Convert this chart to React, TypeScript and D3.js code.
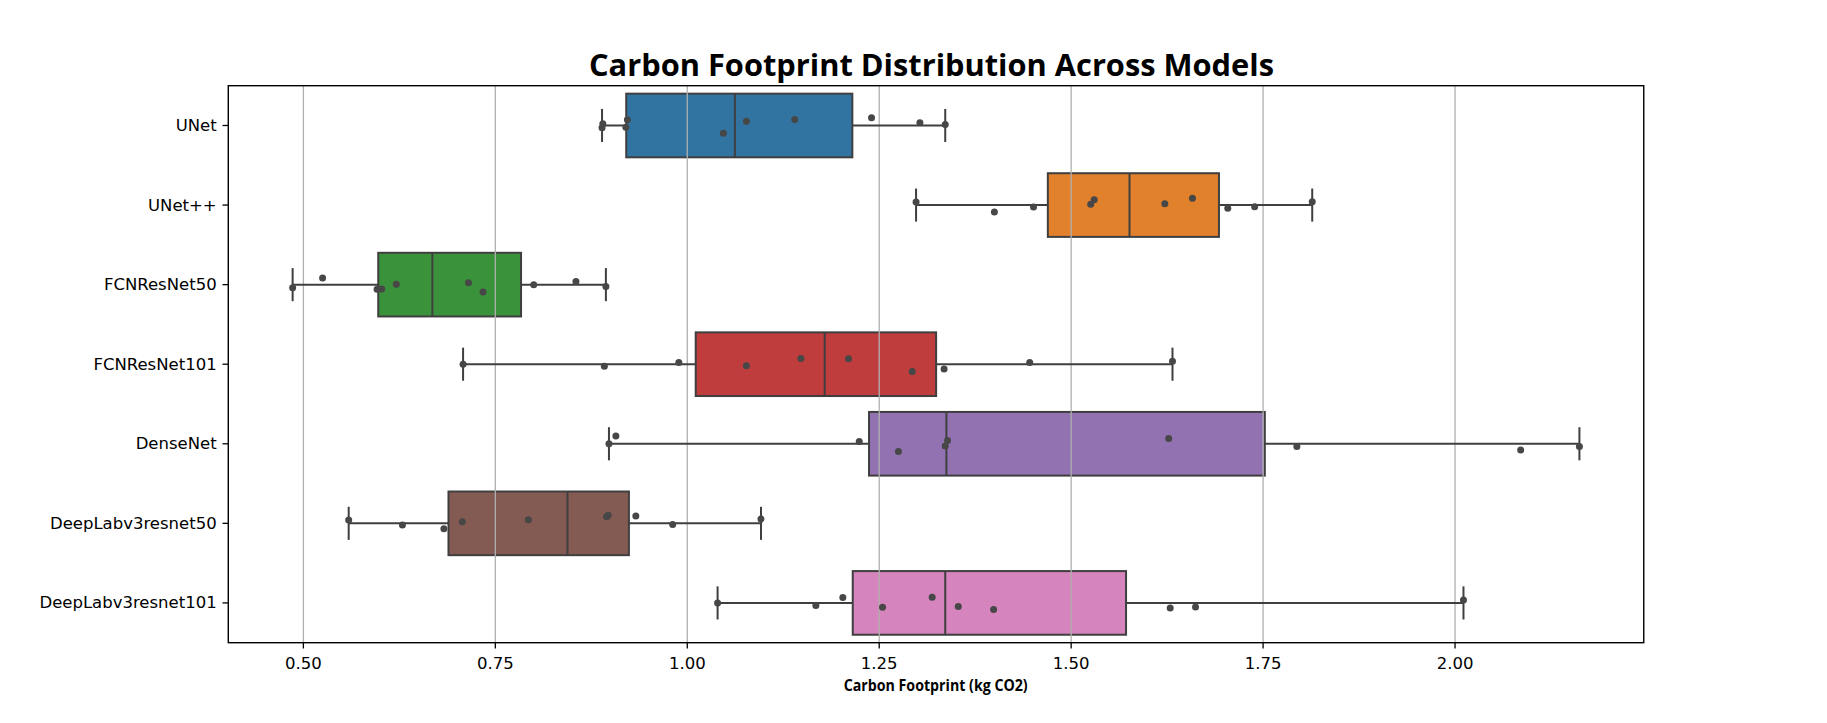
import React from "react";
import * as d3 from "d3";

const models = [
  "UNet",
  "UNet++",
  "FCNResNet50",
  "FCNResNet101",
  "DenseNet",
  "DeepLabv3resnet50",
  "DeepLabv3resnet101",
];

// carbon footprint samples (kg CO2) per model
const unetValues = [0.889, 0.89, 0.92, 0.922, 1.047, 1.077, 1.14, 1.24, 1.303, 1.336];
const unetPPValues = [1.298, 1.4, 1.451, 1.5255, 1.53, 1.622, 1.658, 1.704, 1.739, 1.814];
const fcn50Values = [0.486, 0.525, 0.596, 0.602, 0.621, 0.715, 0.734, 0.8, 0.855, 0.894];
const fcn101Values = [0.708, 0.892, 0.989, 1.077, 1.148, 1.21, 1.293, 1.3345, 1.446, 1.632];
const denseValues = [0.898, 0.907, 1.224, 1.275, 1.336, 1.339, 1.627, 1.794, 2.0855, 2.162];
const deeplab50Values = [0.559, 0.629, 0.683, 0.707, 0.793, 0.895, 0.897, 0.933, 0.981, 1.096];
const deeplab101Values = [1.0395, 1.1675, 1.2026, 1.2543, 1.319, 1.353, 1.399, 1.629, 1.662, 2.011];

// strip-plot jitter (category units)
const unetJitter = [0.029, -0.021, 0.021, -0.072, 0.097, -0.054, -0.075, -0.097, -0.034, -0.013];
const unetPPJitter = [-0.038, 0.088, 0.025, -0.009, -0.067, -0.016, -0.084, 0.041, 0.021, -0.041];
const fcn50Jitter = [0.038, -0.084, 0.059, 0.054, -0.004, -0.025, 0.092, 0.0, -0.038, 0.025];
const fcn101Jitter = [0.0, 0.025, -0.021, 0.021, -0.072, -0.067, 0.092, 0.059, -0.021, -0.038];
const denseJitter = [0.0, -0.097, -0.029, 0.097, 0.029, -0.041, -0.067, 0.034, 0.079, 0.034];
const deeplab50Jitter = [-0.041, 0.021, 0.067, -0.021, -0.046, -0.084, -0.101, -0.092, 0.016, -0.054];
const deeplab101Jitter = [0.0, 0.034, -0.067, 0.054, -0.072, 0.046, 0.084, 0.063, 0.05, -0.038];

const seriesValues = [unetValues, unetPPValues, fcn50Values, fcn101Values, denseValues, deeplab50Values, deeplab101Values];
const seriesJitter = [unetJitter, unetPPJitter, fcn50Jitter, fcn101Jitter, denseJitter, deeplab50Jitter, deeplab101Jitter];

const palette = ["#3274a1", "#e1812c", "#3a923a", "#c03d3e", "#9372b2", "#845b53", "#d684bd"];

const xTicks = [0.5, 0.75, 1.0, 1.25, 1.5, 1.75, 2.0];
const titleText = "Carbon Footprint Distribution Across Models";
const xLabelText = "Carbon Footprint (kg CO2)";

const W = 1827;
const H = 723;
const plot = { left: 228.3, right: 1643.75, top: 85.7, bottom: 642.7 };

const LINE = "#3f3f3f";
const POINT = "#474747";
const TICK_FONT = "'DejaVu Sans', sans-serif";
const TITLE_FONT = "'Open Sans', 'Noto Sans', sans-serif";

function stats(vals: number[]) {
  const s = [...vals].sort((a, b) => a - b);
  const q1 = d3.quantileSorted(s, 0.25) as number;
  const med = d3.quantileSorted(s, 0.5) as number;
  const q3 = d3.quantileSorted(s, 0.75) as number;
  const iqr = q3 - q1;
  const lo = d3.min(s.filter((v) => v >= q1 - 1.5 * iqr)) as number;
  const hi = d3.max(s.filter((v) => v <= q3 + 1.5 * iqr)) as number;
  return { q1, med, q3, lo, hi };
}

export default function App() {
  const all = seriesValues.flat();
  const mn = d3.min(all) as number;
  const mx = d3.max(all) as number;
  const pad = (mx - mn) * 0.05;
  const x = d3.scaleLinear().domain([mn - pad, mx + pad]).range([plot.left, plot.right]);
  const y = d3.scaleBand<string>().domain(models).range([plot.top, plot.bottom]).paddingInner(0).paddingOuter(0);
  const bw = y.bandwidth();
  const boxH = bw * 0.8;
  const capHalf = boxH * 0.26;
  const fmt = d3.format(".2f");

  const st = seriesValues.map(stats);

  return (
    <svg
      width={W}
      height={H}
      viewBox={`0 0 ${W} ${H}`}
      style={{ position: "absolute", left: 0, top: 0, background: "#fff" }}
    >
      <rect x={0} y={0} width={W} height={H} fill="#fff" />
      {/* box patches */}
      {models.map((m, i) => {
        const s = st[i];
        const cy = (y(m) as number) + bw / 2;
        return (
          <rect
            key={"box" + m}
            x={x(s.q1)}
            y={cy - boxH / 2}
            width={x(s.q3) - x(s.q1)}
            height={boxH}
            fill={palette[i]}
            stroke={LINE}
            strokeWidth={2}
          />
        );
      })}
      {/* grid lines */}
      {xTicks.map((t) => (
        <line
          key={"g" + t}
          x1={x(t)}
          x2={x(t)}
          y1={plot.top}
          y2={plot.bottom}
          stroke="#b0b0b0"
          strokeWidth={1.3}
        />
      ))}
      {/* whiskers, caps, medians */}
      {models.map((m, i) => {
        const s = st[i];
        const cy = (y(m) as number) + bw / 2;
        return (
          <g key={"w" + m} stroke={LINE} strokeWidth={2} fill="none">
            <line x1={x(s.lo)} x2={x(s.q1)} y1={cy} y2={cy} />
            <line x1={x(s.q3)} x2={x(s.hi)} y1={cy} y2={cy} />
            <line x1={x(s.lo)} x2={x(s.lo)} y1={cy - capHalf} y2={cy + capHalf} />
            <line x1={x(s.hi)} x2={x(s.hi)} y1={cy - capHalf} y2={cy + capHalf} />
            <line x1={x(s.med)} x2={x(s.med)} y1={cy - boxH / 2} y2={cy + boxH / 2} />
          </g>
        );
      })}
      {/* strip points */}
      {models.map((m, i) => {
        const cy = (y(m) as number) + bw / 2;
        return (
          <g key={"p" + m} fill={POINT}>
            {seriesValues[i].map((v, j) => (
              <circle key={j} cx={x(v)} cy={cy + seriesJitter[i][j] * bw} r={3.5} />
            ))}
          </g>
        );
      })}
      {/* spines */}
      <rect
        x={plot.left}
        y={plot.top}
        width={plot.right - plot.left}
        height={plot.bottom - plot.top}
        fill="none"
        stroke="#000"
        strokeWidth={1.4}
      />
      {/* x ticks */}
      {xTicks.map((t) => (
        <g key={"xt" + t}>
          <line x1={x(t)} x2={x(t)} y1={plot.bottom} y2={plot.bottom + 5.8} stroke="#000" strokeWidth={1.3} />
          <text
            x={x(t)}
            y={plot.bottom + 26.5}
            textAnchor="middle"
            fontFamily={TICK_FONT}
            fontSize={16.5}
            fill="#000"
          >
            {fmt(t)}
          </text>
        </g>
      ))}
      {/* y ticks */}
      {models.map((m) => {
        const cy = (y(m) as number) + bw / 2;
        return (
          <g key={"yt" + m}>
            <line x1={plot.left - 5.8} x2={plot.left} y1={cy} y2={cy} stroke="#000" strokeWidth={1.3} />
            <text
              x={plot.left - 11.6}
              y={cy}
              textAnchor="end"
              dominantBaseline="central"
              fontFamily={TICK_FONT}
              fontSize={16.5}
              fill="#000"
            >
              {m}
            </text>
          </g>
        );
      })}
      {/* title */}
      <text
        x={931.5}
        y={76}
        textAnchor="middle"
        fontFamily={TITLE_FONT}
        fontWeight={700}
        fontSize={30}
        textLength={685}
        lengthAdjust="spacingAndGlyphs"
        fill="#000"
      >
        {titleText}
      </text>
      {/* x label */}
      <text
        x={935.7}
        y={690.7}
        textAnchor="middle"
        fontFamily={TITLE_FONT}
        fontWeight={700}
        fontSize={15.5}
        textLength={184}
        lengthAdjust="spacingAndGlyphs"
        fill="#000"
      >
        {xLabelText}
      </text>
    </svg>
  );
}
